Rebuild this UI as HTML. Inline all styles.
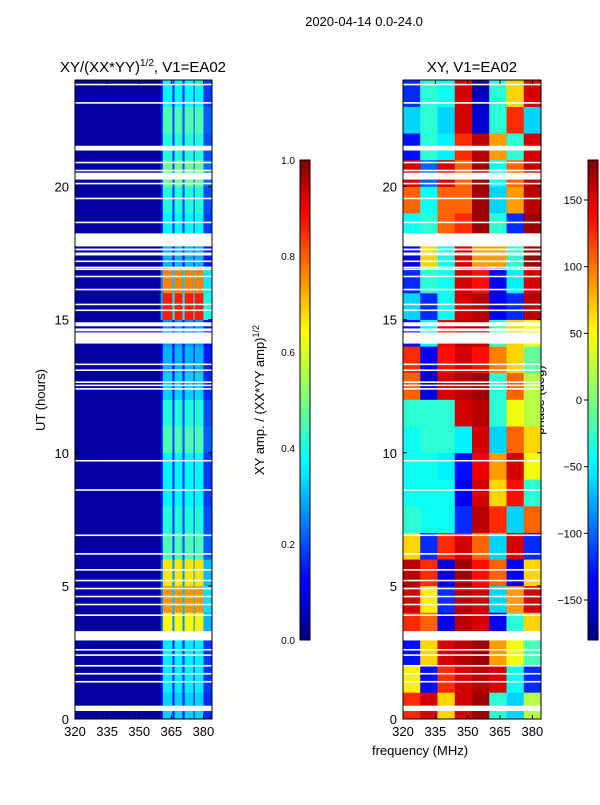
<!DOCTYPE html>
<html><head><meta charset="utf-8"><style>
body{margin:0;background:#fff;width:600px;height:800px;overflow:hidden}
svg{font-family:"Liberation Sans","DejaVu Sans",sans-serif}
</style></head><body>
<svg id="fig" width="600" height="800" viewBox="0 0 600 800">
<text x="364" y="26" font-size="13" text-anchor="middle">2020-04-14 0.0-24.0</text>
<text x="143" y="72" font-size="15" text-anchor="middle">XY/(XX*YY)<tspan dy="-6" font-size="10">1/2</tspan><tspan dy="6">, V1=EA02</tspan></text>
<text x="472" y="72" font-size="15" text-anchor="middle">XY, V1=EA02</text>
<text transform="translate(45,400) rotate(-90)" font-size="13" text-anchor="middle">UT (hours)</text>
<text transform="translate(264,400) rotate(-90)" font-size="13" text-anchor="middle">XY amp. / (XX*YY amp)<tspan dy="-5" font-size="9">1/2</tspan></text>
<text transform="translate(544,400) rotate(-90)" font-size="13" text-anchor="middle">phase (deg)</text>
<text x="420" y="755" font-size="13" text-anchor="middle">frequency (MHz)</text>
<g id="left"></g>
<g id="right"></g>
<g id="axes"></g>
<defs>
<linearGradient id="jet" x1="0" y1="1" x2="0" y2="0">
<stop offset="0" stop-color="#00007f"/><stop offset="0.11" stop-color="#0000ff"/><stop offset="0.125" stop-color="#0000ff"/><stop offset="0.34" stop-color="#00dfff"/><stop offset="0.375" stop-color="#00ffff"/><stop offset="0.5" stop-color="#7dff7a"/><stop offset="0.64" stop-color="#ffff00"/><stop offset="0.66" stop-color="#ffee00"/><stop offset="0.89" stop-color="#ff0000"/><stop offset="1" stop-color="#7f0000"/>
</linearGradient></defs>
<rect x="300" y="160" width="10" height="480" fill="url(#jet)" stroke="#000" stroke-width="1"/>
<rect x="588" y="160" width="10" height="480" fill="url(#jet)" stroke="#000" stroke-width="1"/>
</svg>
<script>
const hours=[0,1,2,3,4,5,6,7,8,9,10,11,12,13,14,15,16,17,18,19,20,21,22,23];
const ampRow=[0.3,0.33,0.33,0.6,0.7,0.62,0.42,0.38,0.34,0.34,0.42,0.38,0.3,0.27,0.24,0.82,0.72,0.27,0.34,0.38,0.45,0.38,0.42,0.34];
const freqSegStart=[320,360,361,365.5,366.5,370.2,371.2,375.4,375.9,380];
const freqSegEnd=[360,361,365.5,366.5,370.2,371.2,375.4,375.9,380,384];
const freqSegWeight=[0,0.3,1,0.4,1,0.4,1,0.4,1,0.45];
const phaseFreqStart=[320,328,336,344,352,360,368,376];
const phase=[
[120,150,60,150,170,-30,-60,20],[50,-130,120,150,160,150,-40,-120],[-130,60,150,160,170,80,40,-20],
[120,100,-140,160,150,-140,-30,60],[150,50,-120,160,150,-60,80,150],[160,120,-150,170,130,100,-140,60],
[60,-120,120,150,100,-60,150,-120],[-30,-40,-40,-120,160,120,-60,100],[-40,-40,-40,-140,150,60,130,-30],
[-40,-40,-50,-130,140,80,150,40],[-40,-30,-30,-50,150,-60,100,60],[-30,-30,-30,150,160,-30,40,20],
[100,-150,150,160,170,-30,100,20],[120,-140,130,150,130,90,60,-10],[-130,-40,140,160,160,-20,60,40],
[-60,-120,-40,150,160,-140,-120,160],[-120,-30,-40,150,130,-140,-50,150],[-140,60,-40,150,80,80,-30,170],
[-40,-30,100,120,170,-30,-120,170],[100,-40,100,100,170,-60,80,160],[150,-100,150,100,170,-40,100,160],
[-130,-30,-50,120,160,80,-30,150],[-60,-30,-60,150,-150,-30,120,-60],[-120,-30,-40,150,-160,-30,60,150]];
const gapStart=[23.8,23.11,21.35,20.87,20.57,20.26,20.08,19.52,18.62,17.75,17.6,17.41,17.16,16.93,16.86,16.59,16.1,15.54,15.32,14.75,14.56,14.1,13.29,13.07,12.62,12.5,12.37,9.67,8.57,6.87,6.17,5.57,5.17,4.87,4.57,4.27,3.87,2.95,2.57,2.37,1.97,1.67,1.37,0.3];
const gapEnd=[23.86,23.17,21.53,20.93,20.63,20.52,20.14,19.58,18.68,18.24,17.67,17.52,17.22,16.99,16.92,16.65,16.16,15.6,15.38,14.9,14.67,14.52,13.35,13.13,12.68,12.56,12.43,9.73,8.63,6.93,6.23,5.63,5.23,4.93,4.63,4.33,3.93,3.3,2.63,2.43,2.03,1.73,1.43,0.5];
const ampTicks=[0,0.2,0.4,0.6,0.8,1.0];
const phaseTicks=[-150,-100,-50,0,50,100,150];
const xTicks=[320,335,350,365,380];
const yTicks=[0,5,10,15,20];
const NS='http://www.w3.org/2000/svg';
const Y0=719,Y1=80;
const yS=h=>Y0-(Y0-Y1)*h/24;
const xL=f=>75+(212-75)*(f-320)/64;
const xR=f=>403+(541-403)*(f-320)/64;
function jet(v){v=Math.max(0,Math.min(1,v));
 const r=Math.max(0,Math.min(1,1.5-Math.abs(4*v-3))),g=Math.max(0,Math.min(1,1.5-Math.abs(4*v-2))),b=Math.max(0,Math.min(1,1.5-Math.abs(4*v-1)));
 return `rgb(${Math.round(r*255)},${Math.round(g*255)},${Math.round(b*255)})`;}
function mk(tag,attrs,parent){const e=document.createElementNS(NS,tag);for(const k in attrs)e.setAttribute(k,attrs[k]);parent.appendChild(e);return e;}
const L=document.getElementById('left'),R=document.getElementById('right'),A=document.getElementById('axes');
hours.forEach((h,i)=>{
 freqSegStart.forEach((fs,j)=>{
  const v=0.03+freqSegWeight[j]*ampRow[i];
  const r=mk('rect',{x:xL(fs),y:yS(h+1),width:xL(freqSegEnd[j])-xL(fs)+0.3,height:yS(h)-yS(h+1)+0.3,fill:jet(v)},L);
  
  
 });
 phaseFreqStart.forEach((fs,j)=>{
  const v=(phase[i][j]+180)/360;
  const r=mk('rect',{x:xR(fs),y:yS(h+1),width:xR(fs+8)-xR(fs)+0.3,height:yS(h)-yS(h+1)+0.3,fill:jet(v)},R);
  
  
 });
});
gapStart.forEach((g,i)=>{
 [[75,137],[403,138]].forEach(([x,w])=>{
  const r=mk('rect',{x:x,y:yS(gapEnd[i]),width:w,height:Math.max(1.2,yS(g)-yS(gapEnd[i])),fill:'#fff'},A);
  
  
 });
});
[[75,137,xL],[403,138,xR]].forEach(([x0,w,xf])=>{
 const f=mk('rect',{x:x0,y:Y1,width:w,height:Y0-Y1,fill:'none',stroke:'#000','stroke-width':1},A);
 
 
 xTicks.forEach(t=>{
  const x=xf(t);
  mk('line',{x1:x,x2:x,y1:Y0,y2:Y0-4,stroke:'#000'},A);
  mk('line',{x1:x,x2:x,y1:Y1,y2:Y1+4,stroke:'#000'},A);
  const tx=mk('text',{x:x,y:Y0+17,'font-size':13,'text-anchor':'middle'},A);tx.textContent=t;
  
  
 });
 yTicks.forEach(t=>{
  const y=yS(t);
  mk('line',{x1:x0,x2:x0+4,y1:y,y2:y,stroke:'#000'},A);
  mk('line',{x1:x0+w,x2:x0+w-4,y1:y,y2:y,stroke:'#000'},A);
  const tx=mk('text',{x:x0-6,y:y+5,'font-size':13,'text-anchor':'end'},A);tx.textContent=t;
  
  
 });
});
ampTicks.forEach(t=>{
 const y=640-480*t;
 mk('line',{x1:306,x2:310,y1:y,y2:y,stroke:'#000'},A);
 const tx=mk('text',{x:295,y:y+4,'font-size':10,'text-anchor':'end'},A);tx.textContent=t.toFixed(1);
 
 
});
phaseTicks.forEach(t=>{
 const y=640-480*(t+180)/360;
 mk('line',{x1:584,x2:588,y1:y,y2:y,stroke:'#000'},A);
 const tx=mk('text',{x:582,y:y+4,'font-size':11,'text-anchor':'end'},A);tx.textContent=t===0?'0':(t<0?'\u2212'+(-t):t);
 
 
});
</script>
</body></html>
